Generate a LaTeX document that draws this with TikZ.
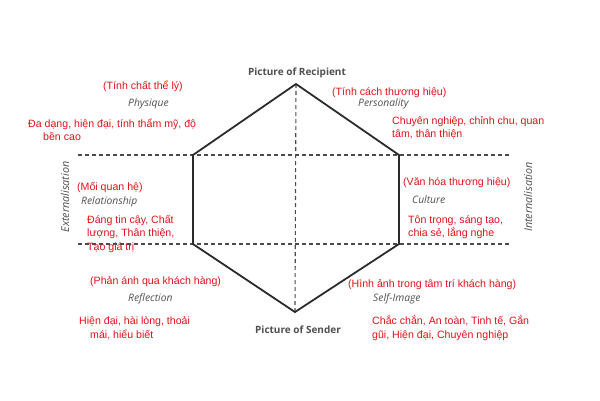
\documentclass[tikz,border=0pt]{standalone}
\usepackage{fontspec}
\setmainfont{Liberation Sans}
\newfontfamily\osans{Open Sans}
\usetikzlibrary{positioning}
\definecolor{vnred}{HTML}{E3101A}
\definecolor{lblgray}{HTML}{4F4F4F}
\definecolor{lnk}{HTML}{2B2B2B}

\begin{document}
\begin{tikzpicture}[
  x=1pt, y=-1pt,
  hex/.style={draw=lnk,line width=1.8pt,line join=miter},
  guide/.style={draw=lnk!85,line width=1.1pt,dash pattern=on 4pt off 3pt},
  vn/.style={text=vnred,font=\fontsize{10.6}{13.5}\selectfont,inner sep=0pt,anchor=west,align=left},
  fc/.style={text=lblgray,font=\osans\itshape\fontsize{10.3}{12}\selectfont,inner sep=0pt,anchor=west},
  pl/.style={text=lblgray,font=\osans\bfseries\fontsize{10}{12}\selectfont,inner sep=0pt},
  ax/.style={text=lblgray,font=\osans\itshape\fontsize{10.8}{12}\selectfont,inner sep=0pt,rotate=90}]
\useasboundingbox (0,0) rectangle (600,400);
% hexagon corners
\coordinate (t) at (296,84);
\coordinate (ur) at (399,155);
\coordinate (lr) at (399,244);
\coordinate (b) at (295,312);
\coordinate (ll) at (193,244);
\coordinate (ul) at (193,155);
% guide lines
\coordinate (gl1) at (78,155);
\coordinate (gr1) at (511,155);
\coordinate (gl2) at (78,244);
\coordinate (gr2) at (511,244);
\draw[guide] (gl1)--(gr1);
\draw[guide] (gl2)--(gr2);
\draw[guide] (t)--(b);
\draw[hex] (t)--(ur)--(lr)--(b)--(ll)--(ul)--cycle;
% axis labels
\node[pl] (rcp) at (297,73) {Picture of Recipient};
\node[pl] (snd) at (298,330) {Picture of Sender};
\node[ax] (ext) at (65,197) {Externalisation};
\node[ax] (int) at (528,197) {Internalisation};
% physique
\node[vn] (phyv) at (103,86) {(Tính chất thể lý)};
\node[fc] (phy) at (128,104) {Physique};
\node[vn] (phyt) at (28,130) {Đa dạng, hiện đại, tính thẩm mỹ, độ\\\hspace*{15pt}bền cao};
% personality
\node[vn] (perv) at (332,93) {(Tính cách thương hiệu)};
\node[fc] (per) at (358,104) {Personality};
\node[vn] (pert) at (392,128) {Chuyên nghiệp, chỉnh chu, quan\\tâm, thân thiện};
% relationship
\node[vn] (relv) at (77,188) {(Mối quan hệ)};
\node[fc] (rel) at (81,202) {Relationship};
\node[vn] (relt) at (87,234) {Đáng tin cậy, Chất\\lượng, Thân thiện,\\Tạo giá trị};
% culture
\node[vn] (culv) at (403,183) {(Văn hóa thương hiệu)};
\node[fc] (cul) at (412,200) {Culture};
\node[vn] (cult) at (408,227) {Tôn trọng, sáng tạo,\\chia sẻ, lắng nghe};
% reflection
\node[vn] (refv) at (90,282) {(Phản ánh qua khách hàng)};
\node[fc] (ref) at (128,299) {Reflection};
\node[vn] (reft) at (79,328) {Hiện đại, hài lòng, thoải\\\hspace*{11pt}mái, hiểu biết};
% self-image
\node[vn] (selv) at (348,285) {(Hình ảnh trong tâm trí khách hàng)};
\node[fc] (sel) at (373,299) {Self-Image};
\node[vn] (selt) at (372,328) {Chắc chắn, An toàn, Tinh tế, Gắn\\gũi, Hiện đại, Chuyên nghiệp};
\end{tikzpicture}
\end{document}
